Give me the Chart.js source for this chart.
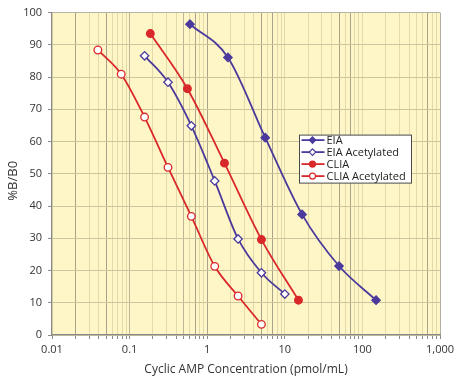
<!DOCTYPE html>
<html><head><meta charset="utf-8">
<script src="https://cdn.jsdelivr.net/npm/chart.js@4"></script>
<style>html,body{margin:0;padding:0;background:#fff}#wrap{width:461px;height:385px}</style>
</head><body><div id="wrap"><canvas id="c" width="461" height="385"></canvas></div>
<script>
// ---- data ----
const seriesNames = ['EIA', 'EIA Acetylated', 'CLIA', 'CLIA Acetylated'];
const eiaX   = [0.6, 1.85, 5.6, 16.7, 50, 150];
const eiaY   = [96.4, 86.1, 61.2, 37.4, 21.4, 10.8];
const eiaAcX = [0.156, 0.3125, 0.625, 1.25, 2.5, 5, 10];
const eiaAcY = [86.6, 78.4, 64.9, 47.8, 29.8, 19.3, 12.7];
const cliaX  = [0.185, 0.556, 1.67, 5, 15];
const cliaY  = [93.5, 76.4, 53.3, 29.6, 10.8];
const cliaAcX = [0.039, 0.078, 0.156, 0.3125, 0.625, 1.25, 2.5, 5];
const cliaAcY = [88.4, 80.9, 67.6, 52.0, 36.8, 21.3, 12.1, 3.3];
const xTickValues = [0.01, 0.1, 1, 10, 100, 1000];
const xTickLabels = ['0.01', '0.1', '1', '10', '100', '1,000'];
const yTickLabels = ['0', '10', '20', '30', '40', '50', '60', '70', '80', '90', '100'];
const darkXGrid = [0.02, 0.05, 0.7, 1, 5, 7, 50, 70, 700];
const midXGrid = [0.1, 0.5];
const yTitle = '%B/B0';

const PURPLE = '#4b3a9c';
const RED = '#d9282a';

function pts(xs, ys) { return xs.map((x, i) => ({x: x, y: ys[i]})); }
function near(v, list) { return list.some(t => Math.abs(Math.log10(v) - Math.log10(t)) < 1e-6); }

Chart.defaults.font.family = "'Open Sans', sans-serif";
Chart.defaults.color = '#333';

const ds = (label, data, color, style, filled) => ({
  label: label, data: data, borderColor: color, borderWidth: 1.8,
  backgroundColor: filled ? color : '#ffffff',
  pointStyle: style, pointRadius: style === 'rectRot' ? 4.2 : 3.8,
  pointBorderWidth: 1.3, pointBorderColor: color,
  pointBackgroundColor: filled ? color : '#ffffff',
  cubicInterpolationMode: 'monotone', fill: false
});

const legendPlugin = {
  id: 'boxLegend',
  afterDatasetsDraw(chart) {
    const ctx = chart.ctx, a = chart.chartArea;
    const x0 = a.left + 247.5, y0 = a.top + 122.5, w = 112, h = 48;
    ctx.save();
    ctx.fillStyle = '#ffffff';
    ctx.fillRect(x0, y0, w, h);
    ctx.strokeStyle = '#4a4a4a';
    ctx.lineWidth = 1;
    ctx.strokeRect(x0, y0, w, h);
    chart.data.datasets.forEach((d, i) => {
      const cy = y0 + 5 + i * 12;
      ctx.strokeStyle = d.borderColor;
      ctx.lineWidth = 1.8;
      ctx.beginPath(); ctx.moveTo(x0 + 2, cy); ctx.lineTo(x0 + 25, cy); ctx.stroke();
      ctx.lineWidth = 1.2;
      ctx.fillStyle = d.pointBackgroundColor; ctx.strokeStyle = d.borderColor;
      ctx.beginPath();
      if (d.pointStyle === 'rectRot') {
        ctx.moveTo(x0 + 13, cy - 3.2); ctx.lineTo(x0 + 16.2, cy); ctx.lineTo(x0 + 13, cy + 3.2); ctx.lineTo(x0 + 9.8, cy); ctx.closePath();
      } else { ctx.arc(x0 + 13, cy, 3, 0, Math.PI * 2); }
      ctx.fill(); ctx.stroke();
      ctx.fillStyle = '#222';
      ctx.font = "11px 'Open Sans'";
      ctx.textBaseline = 'middle';
      ctx.fillText(d.label, x0 + 27, cy + 0.5);
    });
    ctx.restore();
  }
};

const bgPlugin = {
  id: 'plotBg',
  beforeDraw(chart) {
    const a = chart.chartArea, ctx = chart.ctx;
    ctx.save(); ctx.fillStyle = '#fff6c8';
    ctx.fillRect(a.left, a.top, a.right - a.left, a.bottom - a.top);
    ctx.restore();
  },
  afterDraw(chart) {
    const a = chart.chartArea, ctx = chart.ctx;
    ctx.save();
    ctx.translate(13, (a.top + a.bottom) / 2 + 7);
    ctx.rotate(-Math.PI / 2);
    ctx.fillStyle = '#333';
    ctx.font = "13px 'Open Sans'";
    ctx.textAlign = 'center'; ctx.textBaseline = 'middle';
    ctx.fillText(yTitle, 0, 0);
    ctx.restore();
  }
};

new Chart(document.getElementById('c'), {
  type: 'line',
  data: { datasets: [
    ds(seriesNames[0], pts(eiaX, eiaY), PURPLE, 'rectRot', true),
    ds(seriesNames[1], pts(eiaAcX, eiaAcY), PURPLE, 'rectRot', false),
    ds(seriesNames[2], pts(cliaX, cliaY), RED, 'circle', true),
    ds(seriesNames[3], pts(cliaAcX, cliaAcY), RED, 'circle', false)
  ]},
  options: {
    responsive: false, animation: false, devicePixelRatio: 1,
    layout: { padding: { top: 10, right: 21, left: 0, bottom: 0 } },
    plugins: { legend: { display: false }, tooltip: { enabled: false } },
    scales: {
      x: {
        type: 'logarithmic', min: 0.01, max: 1000,
        afterBuildTicks(scale) {
          const t = [];
          for (let e = -2; e <= 2; e++) for (let s = 1; s <= 9; s++)
            t.push({value: +(s * Math.pow(10, e)).toPrecision(6)});
          t.push({value: 1000});
          scale.ticks = t;
        },
        afterFit(scale) { scale.height = 50; },
        ticks: {
          autoSkip: false, maxRotation: 0, padding: 4,
          font: { size: 11 }, color: '#333',
          callback(v) {
            const i = xTickValues.findIndex(t => Math.abs(Math.log10(t) - Math.log10(v)) < 1e-6);
            return i >= 0 ? xTickLabels[i] : '';
          }
        },
        grid: {
          color(ctx) {
            const v = ctx.tick && ctx.tick.value;
            if (v === undefined) return '#e6dcae';
            if (near(v, [1000])) return '#b5b0a0';
            if (near(v, darkXGrid)) return '#a9a38c';
            if (near(v, midXGrid)) return '#bdb597';
            return '#e4d9a8';
          },
          lineWidth: 1, drawTicks: true, tickLength: 4, tickColor: '#8a8a8a'
        },
        border: { display: true, color: '#8a8a8a', width: 1.2 },
        title: { display: true, text: 'Cyclic AMP Concentration (pmol/mL)',
          font: { size: 12 }, color: '#333', padding: { top: 2, bottom: 8 } }
      },
      y: {
        min: 0, max: 100,
        afterBuildTicks(scale) {
          scale.ticks = yTickLabels.map(l => ({value: +l}));
        },
        afterFit(scale) { scale.width = 52; },
        ticks: { padding: 6, font: { size: 11 }, color: '#333',
          callback(v) { return yTickLabels[yTickLabels.indexOf(String(v))]; } },
        grid: { color: (ctx) => (ctx.tick && ctx.tick.value === 100) ? '#b8b4a4' : '#cdc4a0',
          lineWidth: 1, drawTicks: true, tickLength: 4, tickColor: '#8a8a8a' },
        border: { display: true, color: '#8a8a8a', width: 1.2 },
        title: { display: false }
      }
    }
  },
  plugins: [bgPlugin, legendPlugin]
});
</script>
</body></html>
